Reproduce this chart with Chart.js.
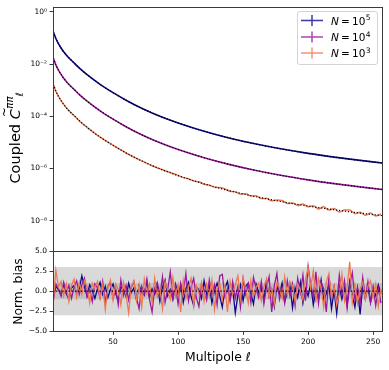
<!DOCTYPE html>
<html><head><meta charset="utf-8">
<script src="https://cdn.jsdelivr.net/npm/chart.js@4.4.1/dist/chart.umd.min.js"></script>
<style>
html,body{margin:0;padding:0;background:#fff;}
#wrap{position:relative;width:389px;height:370px;overflow:hidden;}
canvas{position:absolute;left:0;}
</style></head><body>
<div id="wrap">
<canvas id="cTop" width="389" height="262" style="top:0;width:389px;height:262px"></canvas>
<canvas id="cBot" width="389" height="130" style="top:240px;width:389px;height:130px"></canvas>
</div>
<script>
// ---------------- DATA ----------------
const nExponents = [5, 4, 3];
const seriesColors = ['#0d0887', '#9c179e', '#ed7953'];

// top panel: coupled spectra
const ellTop = [4,6,8,10,12,15,20,25,30,40,50,60,70,80,90,100,120,140,160,180,200,220,240,257];
const clN5 = [0.177,0.0964,0.0608,0.0416,0.0299,0.0197,0.01109,0.00638,0.00394,0.00168,8.04e-4,4.12e-4,2.26e-4,1.34e-4,8.43e-5,5.56e-5,2.68e-5,1.445e-5,8.59e-6,5.52e-6,3.78e-6,2.72e-6,2.03e-6,1.62e-6];
const clN4 = [0.0171,0.00931,0.00587,0.00402,0.00289,0.0019,0.001071,6.16e-4,3.81e-4,1.62e-4,7.77e-5,3.98e-5,2.18e-5,1.29e-5,8.14e-6,5.37e-6,2.59e-6,1.40e-6,8.30e-7,5.33e-7,3.65e-7,2.62e-7,1.96e-7,1.56e-7];
const theoryN3 = [1.69e-3,9.21e-4,5.81e-4,3.97e-4,2.86e-4,1.88e-4,1.059e-4,6.09e-5,3.76e-5,1.60e-5,7.68e-6,3.93e-6,2.16e-6,1.28e-6,8.05e-7,5.31e-7,2.56e-7,1.38e-7,8.20e-8,5.27e-8,3.61e-8,2.60e-8,1.94e-8,1.55e-8];
const ellN3 = [4,6,8,10,12,15,20,25,30,40,50,60,70,80,90,100,104,108,112,116,120,124,128,132,136,140,144,148,152,156,160,164,168,172,176,180,184,188,192,196,200,204,208,212,216,220,224,228,232,236,240,244,248,252,256];
const clN3 = [1.70e-3,9.15e-4,5.85e-4,3.95e-4,2.88e-4,1.87e-4,1.065e-4,6.05e-5,3.78e-5,1.59e-5,7.72e-6,3.90e-6,2.18e-6,1.27e-6,8.10e-7,5.43e-7,4.45e-7,4.05e-7,3.30e-7,3.07e-7,2.47e-7,2.30e-7,1.90e-7,1.84e-7,1.65e-7,1.32e-7,1.27e-7,1.04e-7,1.08e-7,8.67e-8,8.89e-8,6.98e-8,7.16e-8,5.71e-8,6.15e-8,5.85e-8,4.55e-8,4.73e-8,3.78e-8,4.36e-8,3.37e-8,3.70e-8,2.81e-8,3.39e-8,2.52e-8,2.91e-8,2.13e-8,2.53e-8,2.56e-8,1.83e-8,2.07e-8,1.60e-8,1.95e-8,1.51e-8,1.80e-8];
const logTicks = [1, 1e-2, 1e-4, 1e-6, 1e-8];

// bottom panel: normalised bias (every second multipole from 4 to 256)
const ellBias = Array.from({length:127}, (_, i) => 4 + 2*i);
const biasN5 = [-0.8,0.6,0.2,-0.5,0.9,-0.3,-1.0,0.4,0.7,-0.2,
 0.3,1.9,0.5,-0.6,0.8,0.1,-0.9,0.3,1.1,-0.4,
 0.6,-0.8,0.2,0.9,-0.3,-1.2,0.5,0.2,-0.7,1.0,
 -0.2,0.4,-1.1,0.7,0.0,-0.5,1.2,-0.8,0.3,-0.4,
 0.8,-1.3,0.5,1.4,-0.6,0.2,-1.0,0.9,-0.3,0.6,
 -1.4,0.3,1.1,-0.7,-1.8,0.5,0.2,-0.9,1.3,-0.4,
 0.7,-1.5,0.1,1.0,-0.6,-2.0,0.4,1.2,-0.8,0.3,
 -2.7,-0.5,0.8,-1.2,0.6,1.0,-0.3,-1.6,0.9,-0.2,
 0.5,-1.1,1.3,-0.7,0.2,-1.9,0.6,-0.4,1.0,-1.3,
 -0.2,0.7,-2.1,0.4,-0.8,1.1,-1.5,0.3,-0.6,0.9,
 -1.7,0.2,-0.9,1.4,-1.2,-0.3,0.8,-2.2,0.1,-2.8,
 0.6,-1.0,0.4,-1.8,1.2,-0.5,-2.0,0.3,-2.9,0.7,
 -0.9,0.5,-1.4,0.2,-0.6,0.8,-0.3];
const biasN4 = [-1.2,0.9,0.3,-0.6,1.1,-0.2,0.7,-0.9,0.5,1.3,
 -0.4,0.8,1.6,-0.7,0.2,-1.3,0.9,0.4,-0.8,1.2,
 -1.5,0.6,1.0,-0.9,0.3,-1.7,1.4,-0.5,0.7,-1.1,
 0.5,1.2,-0.8,-2.2,0.6,-0.3,1.5,-1.0,-2.6,0.4,
 1.1,-0.6,1.8,-1.4,0.2,2.4,-0.9,0.7,-1.6,1.0,
 -0.3,2.2,-1.2,0.5,1.6,-0.8,-1.9,0.9,0.2,-1.1,
 1.4,-0.5,0.8,-1.7,1.9,2.1,-0.7,0.3,-1.3,1.2,
 -0.9,0.6,-2.0,1.5,-0.4,0.9,-1.4,1.7,0.3,-0.8,
 1.2,-1.6,0.5,1.8,-2.6,0.7,2.2,-1.0,0.4,-1.5,
 1.3,-0.6,0.9,-1.8,1.6,-0.2,2.0,-1.2,3.1,0.8,
 -0.7,2.4,-1.5,1.1,0.3,-2.6,1.9,-0.9,0.6,-1.7,
 2.0,-0.4,1.3,-2.1,0.8,2.3,-1.1,0.5,-1.6,1.7,
 -0.8,1.2,-1.4,0.6,-1.8,0.4,-1.5];
const biasN3 = [-1.4,2.6,0.5,1.2,-0.6,0.9,-1.3,0.7,1.5,-0.8,
 1.1,-0.4,1.3,0.6,-1.5,1.0,0.4,1.2,-0.9,0.8,
 -2.3,0.5,1.4,-1.1,0.9,0.2,-1.7,1.1,-0.5,-2.7,
 0.6,1.3,-1.2,0.8,-2.0,1.5,-0.3,0.9,-1.4,1.6,
 -0.7,0.4,-2.2,1.2,0.1,-1.0,1.7,-0.6,0.8,-2.6,
 1.3,-0.9,0.5,1.6,-1.8,0.7,-0.2,1.1,-1.3,0.9,
 -0.6,1.4,-2.3,0.3,1.0,-1.1,0.6,-2.6,1.2,-0.4,
 0.8,1.9,-1.0,1.7,0.2,-1.5,1.3,-0.7,0.5,1.0,
 -1.2,0.6,1.5,-0.8,0.3,-1.6,1.1,0.4,-0.9,1.8,
 -0.5,1.2,0.7,-1.3,0.9,0.2,-1.1,1.5,2.9,0.4,
 2.5,-1.4,1.6,0.4,-2.0,1.2,2.2,-0.8,0.6,-1.7,
 -0.3,2.1,-1.2,0.5,3.65,-1.4,0.8,-1.5,0.2,1.1,
 -1.0,0.6,1.3,-0.7,0.9,-1.9,0.3];
const bandOuter = 3, bandInner = 1;
const biasTicks = [-5, -2.5, 0, 2.5, 5];

// ---------------- LAYOUT ----------------
const X_MIN = 3.8, X_MAX = 257.6;
const AX_W = 53;
const FRAME = '#3a3a3a';
const FONT = '"DejaVu Sans", "Liberation Sans", sans-serif';
const pts = (xs, ys) => xs.map((x, i) => ({x, y: ys[i]}));
const SUP = {'0':'⁰','1':'¹','2':'²','3':'³','4':'⁴','5':'⁵','6':'⁶','7':'⁷','8':'⁸','9':'⁹','-':'⁻'};

const framePlugin = {
  id: 'frame',
  afterDraw(chart) {
    const {ctx, chartArea: a} = chart;
    ctx.save();
    ctx.strokeStyle = FRAME; ctx.lineWidth = 1;
    ctx.strokeRect(Math.round(a.left) + 0.5, Math.round(a.top) + 0.5, Math.round(a.right) - Math.round(a.left) - 1, Math.round(a.bottom) - Math.round(a.top));
    ctx.restore();
  }
};

function drawPieces(ctx, pieces, cx, baseY) {
  let total = 0;
  pieces.forEach(p => { ctx.font = p.font; p.w = ctx.measureText(p.t).width; if (!p.stack) total += p.w + (p.gap || 0); });
  let x = cx - total / 2;
  let lastX = x;
  pieces.forEach(p => {
    ctx.font = p.font;
    if (p.stack) { ctx.fillText(p.t, lastX, baseY + (p.dy || 0)); return; }
    ctx.fillText(p.t, x, baseY + (p.dy || 0));
    if (p.tilde) {
      ctx.save();
      ctx.font = p.tilde;
      ctx.fillText('~', x + p.w * 0.22, baseY - p.tildeDy);
      ctx.restore();
    }
    lastX = x + p.w + (p.gap || 0);
    x = lastX;
  });
}

const topTitles = {
  id: 'topTitles',
  afterDraw(chart) {
    const ctx = chart.ctx;
    ctx.save();
    ctx.translate(19.5, 140);
    ctx.rotate(-Math.PI / 2);
    ctx.fillStyle = '#000';
    ctx.textBaseline = 'alphabetic';
    drawPieces(ctx, [
      {t: 'Coupled ', font: '14.5px ' + FONT},
      {t: 'C', font: 'italic 14.5px ' + FONT, tilde: '12px ' + FONT, tildeDy: 11.5, gap: 0.5},
      {t: 'ππ', font: 'italic 10.2px ' + FONT, dy: -6.5},
      {t: 'ℓ', font: 'italic 10.2px ' + FONT, dy: 3.2, stack: true}
    ], 0, 0);
    ctx.restore();

    // legend
    const lx = 297, ly = 11, lw = 80, lh = 53;
    ctx.save();
    ctx.beginPath();
    if (ctx.roundRect) ctx.roundRect(lx + 0.5, ly + 0.5, lw, lh, 2.5); else ctx.rect(lx + 0.5, ly + 0.5, lw, lh);
    ctx.fillStyle = 'rgba(255,255,255,0.85)'; ctx.fill();
    ctx.strokeStyle = '#d4d4d4'; ctx.lineWidth = 1; ctx.stroke();
    const rowY = [20.5, 37, 53];
    nExponents.forEach((e, i) => {
      const yy = rowY[i];
      ctx.strokeStyle = seriesColors[i]; ctx.globalAlpha = 0.8; ctx.lineWidth = 1.5;
      ctx.beginPath();
      ctx.moveTo(301, yy); ctx.lineTo(323, yy);
      ctx.moveTo(312, yy - 5.5); ctx.lineTo(312, yy + 5.5);
      ctx.stroke();
      ctx.globalAlpha = 1;
      ctx.fillStyle = '#000';
      ctx.textBaseline = 'alphabetic';
      let tx = 331;
      const by = yy + 4;
      ctx.font = 'italic 10.5px ' + FONT; ctx.fillText('N', tx, by); tx += ctx.measureText('N').width + 2.2;
      ctx.font = '10.5px ' + FONT; ctx.fillText('=', tx, by); tx += ctx.measureText('=').width + 2.2;
      ctx.fillText('10', tx, by); tx += ctx.measureText('10').width + 0.4;
      ctx.font = '7.5px ' + FONT; ctx.fillText(String(e), tx, by - 4.5);
    });
    ctx.restore();
  }
};

const botExtras = {
  id: 'botExtras',
  beforeDatasetsDraw(chart) {
    const {ctx, chartArea: a, scales: {y}} = chart;
    ctx.save();
    ctx.fillStyle = '#d9d9d9';
    let t = y.getPixelForValue(bandOuter), b = y.getPixelForValue(-bandOuter);
    ctx.fillRect(a.left, t, a.right - a.left, b - t);
    ctx.fillStyle = '#c2c2c2';
    t = y.getPixelForValue(bandInner); b = y.getPixelForValue(-bandInner);
    ctx.fillRect(a.left, t, a.right - a.left, b - t);
    ctx.restore();
  },
  afterDraw(chart) {
    const ctx = chart.ctx;
    ctx.save();
    ctx.fillStyle = '#000';
    ctx.textBaseline = 'alphabetic';
    ctx.save();
    ctx.translate(21.5, 51.5);
    ctx.rotate(-Math.PI / 2);
    ctx.font = '12.3px ' + FONT;
    ctx.textAlign = 'center';
    ctx.fillText('Norm. bias', 0, 0);
    ctx.restore();
    drawPieces(ctx, [
      {t: 'Multipole ', font: '12.4px ' + FONT},
      {t: 'ℓ', font: 'italic 12.4px ' + FONT}
    ], 218, 121);
    ctx.restore();
  }
};

const tickFont = {family: FONT, size: 7.5};

// ---------------- TOP CHART ----------------
new Chart(document.getElementById('cTop'), {
  type: 'line',
  data: {
    datasets: [
      {data: pts(ellTop, clN5), borderColor: '#000', borderDash: [1.2, 1.8], borderWidth: 1.2, order: 0},
      {data: pts(ellTop, clN4), borderColor: '#000', borderDash: [1.2, 1.8], borderWidth: 1.2, order: 0},
      {data: pts(ellTop, theoryN3), borderColor: '#000', borderDash: [1.2, 1.8], borderWidth: 1.2, order: 0},
      {data: pts(ellTop, clN5), borderColor: seriesColors[0], borderWidth: 1.6, order: 3},
      {data: pts(ellTop, clN4), borderColor: seriesColors[1], borderWidth: 1.6, order: 2},
      {data: pts(ellN3, clN3), borderColor: seriesColors[2], borderWidth: 1.5, order: 1}
    ]
  },
  options: {
    responsive: false, animation: false, devicePixelRatio: 1,
    elements: {point: {radius: 0}, line: {cubicInterpolationMode: 'monotone', fill: false}},
    layout: {padding: {top: 6, right: 6, bottom: 11.3, left: 0}},
    plugins: {legend: {display: false}, tooltip: {enabled: false}},
    scales: {
      x: {type: 'linear', min: X_MIN, max: X_MAX, display: false},
      y: {
        type: 'logarithmic', min: Math.pow(10, -9.15), max: Math.pow(10, 0.19),
        afterFit(s) { s.width = AX_W; },
        afterBuildTicks(s) { s.ticks = logTicks.map(v => ({value: v})); },
        border: {display: false},
        grid: {drawOnChartArea: false, drawTicks: true, tickLength: 3.5, color: FRAME},
        ticks: {
          font: tickFont, color: '#000', padding: 2.5, autoSkip: false,
          callback(v) { const e = Math.round(Math.log10(v)); return '10' + String(e).split('').map(c => SUP[c]).join(''); }
        }
      }
    }
  },
  plugins: [framePlugin, topTitles]
});

// ---------------- BOTTOM CHART ----------------
new Chart(document.getElementById('cBot'), {
  type: 'line',
  data: {
    datasets: [
      {data: [{x: X_MIN, y: 0}, {x: X_MAX, y: 0}], borderColor: '#000', borderDash: [1.3, 1.8], borderWidth: 1.2, order: 0},
      {data: pts(ellBias, biasN3), borderColor: seriesColors[2], borderWidth: 1.3, order: 1},
      {data: pts(ellBias, biasN4), borderColor: seriesColors[1], borderWidth: 1.3, order: 2},
      {data: pts(ellBias, biasN5), borderColor: seriesColors[0], borderWidth: 1.3, order: 3}
    ]
  },
  options: {
    responsive: false, animation: false, devicePixelRatio: 1,
    elements: {point: {radius: 0}, line: {tension: 0, fill: false}},
    layout: {padding: {top: 11, right: 6, bottom: 0, left: 0}},
    plugins: {legend: {display: false}, tooltip: {enabled: false}},
    scales: {
      x: {
        type: 'linear', min: X_MIN, max: X_MAX,
        afterFit(s) { s.height = 38.7; },
        afterBuildTicks(s) { s.ticks = [50, 100, 150, 200, 250].map(v => ({value: v})); },
        border: {display: false},
        grid: {drawOnChartArea: false, drawTicks: true, tickLength: 3.5, color: FRAME},
        ticks: {font: tickFont, color: '#000', padding: 2.5, maxRotation: 0, autoSkip: false}
      },
      y: {
        type: 'linear', min: -5, max: 5,
        afterFit(s) { s.width = AX_W; },
        afterBuildTicks(s) { s.ticks = biasTicks.map(v => ({value: v})); },
        border: {display: false},
        grid: {drawOnChartArea: false, drawTicks: true, tickLength: 3.5, color: FRAME},
        ticks: {
          font: tickFont, color: '#000', padding: 2.5, autoSkip: false,
          callback(v) { return (v < 0 ? '−' : '') + Math.abs(v).toFixed(1); }
        }
      }
    }
  },
  plugins: [framePlugin, botExtras]
});
</script>
</body></html>
